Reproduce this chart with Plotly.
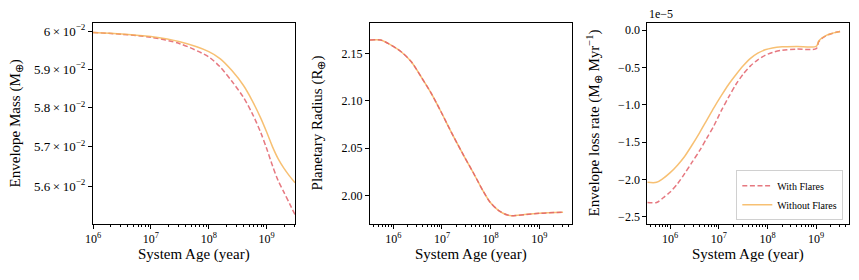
import numpy as np
import plotly.graph_objects as go

# ---------------- data ----------------
# Panel 1: envelope mass (M_earth) vs log10(age/yr)
mass_logage = [6.0, 6.5, 7.0, 7.5, 8.0, 8.2, 8.4, 8.6, 8.75, 8.9, 9.0, 9.1, 9.2, 9.3, 9.4, 9.49]
mass_noflare = [0.05997, 0.05993, 0.05986, 0.05972, 0.05946, 0.05927, 0.05896, 0.05857, 0.05818, 0.05772, 0.05737, 0.05700, 0.05669, 0.05645, 0.05625, 0.05609]
mass_flare = [0.05997, 0.05992, 0.05984, 0.05967, 0.05932, 0.05905, 0.05868, 0.05826, 0.05785, 0.05735, 0.05695, 0.05652, 0.05614, 0.05585, 0.05556, 0.05530]

# Panel 2: planetary radius (R_earth)
rad_logage = [5.52, 5.74, 5.89, 6.16, 6.37, 6.57, 6.78, 6.98, 7.22, 7.45, 7.65, 7.85, 7.99, 8.16, 8.33, 8.43, 8.7, 9.01, 9.49]
rad_noflare = [2.164, 2.164, 2.1605, 2.1517, 2.1411, 2.1253, 2.1078, 2.0884, 2.064, 2.042, 2.0236, 2.0045, 1.993, 1.9845, 1.9798, 1.9789, 1.9800, 1.9814, 1.9825]
rad_flare = [2.164, 2.164, 2.1605, 2.1517, 2.1411, 2.1253, 2.1078, 2.0884, 2.064, 2.042, 2.0236, 2.0045, 1.993, 1.9845, 1.9798, 1.9789, 1.9800, 1.9814, 1.9825]

# Panel 3: envelope loss rate (1e-5 M_earth / Myr)
rate_logage = [5.53, 5.72, 5.85, 6.0, 6.15, 6.3, 6.45, 6.6, 6.75, 6.9, 7.05, 7.2, 7.35, 7.5, 7.65, 7.8, 7.95, 8.1, 8.3, 8.6, 9.0, 9.05, 9.11, 9.2, 9.28, 9.38, 9.49]
rate_noflare = [-2.04, -2.04, -1.99, -1.91, -1.81, -1.69, -1.54, -1.38, -1.21, -1.04, -0.88, -0.73, -0.60, -0.48, -0.38, -0.31, -0.265, -0.24, -0.225, -0.22, -0.22, -0.15, -0.11, -0.075, -0.054, -0.035, -0.02]
rate_flare = [-2.31, -2.31, -2.25, -2.17, -2.06, -1.92, -1.77, -1.62, -1.45, -1.28, -1.08, -0.90, -0.73, -0.59, -0.48, -0.40, -0.34, -0.30, -0.27, -0.255, -0.25, -0.16, -0.115, -0.078, -0.056, -0.036, -0.02]
rate_scale = 1e-5

x_tickvals = [1e6, 1e7, 1e8, 1e9]
x_ticktext = ["10<sup>6</sup>", "10<sup>7</sup>", "10<sup>8</sup>", "10<sup>9</sup>"]
mass_tickvals = [0.056, 0.057, 0.058, 0.059, 0.06]
mass_ticktext = ["5.6\u2009×\u200910<sup>−2</sup>", "5.7\u2009×\u200910<sup>−2</sup>", "5.8\u2009×\u200910<sup>−2</sup>",
                 "5.9\u2009×\u200910<sup>−2</sup>", "6\u2009×\u200910<sup>−2</sup>"]

# ---------------- style ----------------
FONT = "Liberation Serif"
C_FLARE = "rgba(226,96,106,0.85)"
C_NOFLARE = "rgba(245,176,80,0.8)"
DASH = "5px,2.6px"
W = 859
H = 280

def px_x(p):
    return p / W

def px_y(p):
    return 1 - p / H

ydom = [px_y(224), px_y(22.7)]
doms = [[px_x(93), px_x(295)], [px_x(370), px_x(572.3)], [px_x(647.3), px_x(849.3)]]

minor_vals = [k * 10 ** n for n in range(5, 10) for k in range(2, 10)]

def age(logs):
    return [10 ** v for v in logs]

def line(color, dash=None):
    d = dict(color=color, width=1.5, shape="spline", smoothing=0.8)
    if dash:
        d["dash"] = dash
    return d

fig = go.Figure()

# panel 1
fig.add_trace(go.Scatter(x=age(mass_logage), y=mass_flare, mode="lines",
                         line=line(C_FLARE, DASH), xaxis="x", yaxis="y", showlegend=False))
fig.add_trace(go.Scatter(x=age(mass_logage), y=mass_noflare, mode="lines",
                         line=line(C_NOFLARE), xaxis="x", yaxis="y", showlegend=False))
# panel 2
fig.add_trace(go.Scatter(x=age(rad_logage), y=rad_noflare, mode="lines",
                         line=line(C_NOFLARE), xaxis="x2", yaxis="y2", showlegend=False))
fig.add_trace(go.Scatter(x=age(rad_logage), y=rad_flare, mode="lines",
                         line=line(C_FLARE, DASH), xaxis="x2", yaxis="y2", showlegend=False))
# panel 3
fig.add_trace(go.Scatter(x=age(rate_logage), y=[v * rate_scale for v in rate_flare], mode="lines",
                         name="With Flares", line=line(C_FLARE, DASH), xaxis="x3", yaxis="y3"))
fig.add_trace(go.Scatter(x=age(rate_logage), y=[v * rate_scale for v in rate_noflare], mode="lines",
                         name="Without Flares", line=line(C_NOFLARE), xaxis="x3", yaxis="y3"))

common_axis = dict(showline=True, linecolor="black", linewidth=1, mirror=True,
                   ticks="outside", ticklen=4, tickwidth=1, tickcolor="black",
                   showgrid=False, zeroline=False, automargin=False,
                   tickfont=dict(family=FONT, size=12, color="black"))

def xaxis(dom, rng, anchor):
    d = dict(common_axis)
    d.update(type="log", domain=dom, range=rng, anchor=anchor,
             tickvals=x_tickvals, ticktext=x_ticktext,
             minor=dict(tickvals=minor_vals, ticks="outside", ticklen=2, tickwidth=0.8, tickcolor="black"))
    return d

fig.update_layout(
    xaxis=xaxis(doms[0], [6, mass_logage[-1]], "y"),
    xaxis2=xaxis(doms[1], [5.52, 9.68], "y2"),
    xaxis3=xaxis(doms[2], [5.53, 9.68], "y3"),
    yaxis=dict(common_axis, type="log", domain=ydom, anchor="x",
               range=[np.log10(0.05507), np.log10(0.06023)],
               tickvals=mass_tickvals, ticktext=mass_ticktext,
               tickfont=dict(family=FONT, size=13, color="black")),
    yaxis2=dict(common_axis, domain=ydom, anchor="x2", range=[1.9701, 2.1823],
                tickvals=[2.00, 2.05, 2.10, 2.15], ticktext=["2.00", "2.05", "2.10", "2.15"]),
    yaxis3=dict(common_axis, domain=ydom, anchor="x3", range=[-2.598e-5, 0.098e-5],
                tickvals=[v * rate_scale for v in [0.0, -0.5, -1.0, -1.5, -2.0, -2.5]],
                ticktext=["0.0", "−0.5", "−1.0", "−1.5", "−2.0", "−2.5"]),
    width=W, height=H,
    margin=dict(l=0, r=0, t=0, b=0),
    paper_bgcolor="white", plot_bgcolor="white",
    font=dict(family=FONT, color="black"),
    legend=dict(x=px_x(843.3), xanchor="right", y=px_y(220.3), yanchor="bottom",
                bgcolor="rgba(255,255,255,0.9)", bordercolor="#d0d0d0", borderwidth=1,
                font=dict(family=FONT, size=10, color="black"),
                tracegroupgap=0, itemwidth=30),
)

title_font = dict(family=FONT, size=15, color="black")
ymid = px_y(123.4)
ann = []
for cx, txt in [(16, "Envelope Mass (M<sub>⊕</sub>)"),
                (318, "Planetary Radius (R<sub>⊕</sub>)"),
                (594, "Envelope loss rate (M<sub>⊕</sub> Myr<sup>−1</sup>)")]:
    ann.append(dict(x=px_x(cx), y=ymid, xref="paper", yref="paper", text=txt, textangle=-90,
                    showarrow=False, font=title_font, xanchor="center", yanchor="middle"))
for d in doms:
    ann.append(dict(x=(d[0] + d[1]) / 2, y=px_y(254), xref="paper", yref="paper",
                    text="System Age (year)", showarrow=False, font=title_font,
                    xanchor="center", yanchor="middle"))
ann.append(dict(x=px_x(647), y=px_y(14), xref="paper", yref="paper", text="1e−5",
                showarrow=False, font=dict(family=FONT, size=12, color="black"),
                xanchor="left", yanchor="middle"))
fig.update_layout(annotations=ann)

fig.write_html("out.html", config={"displayModeBar": False},
               post_script="document.body.style.margin='0';document.body.style.overflow='hidden';")
